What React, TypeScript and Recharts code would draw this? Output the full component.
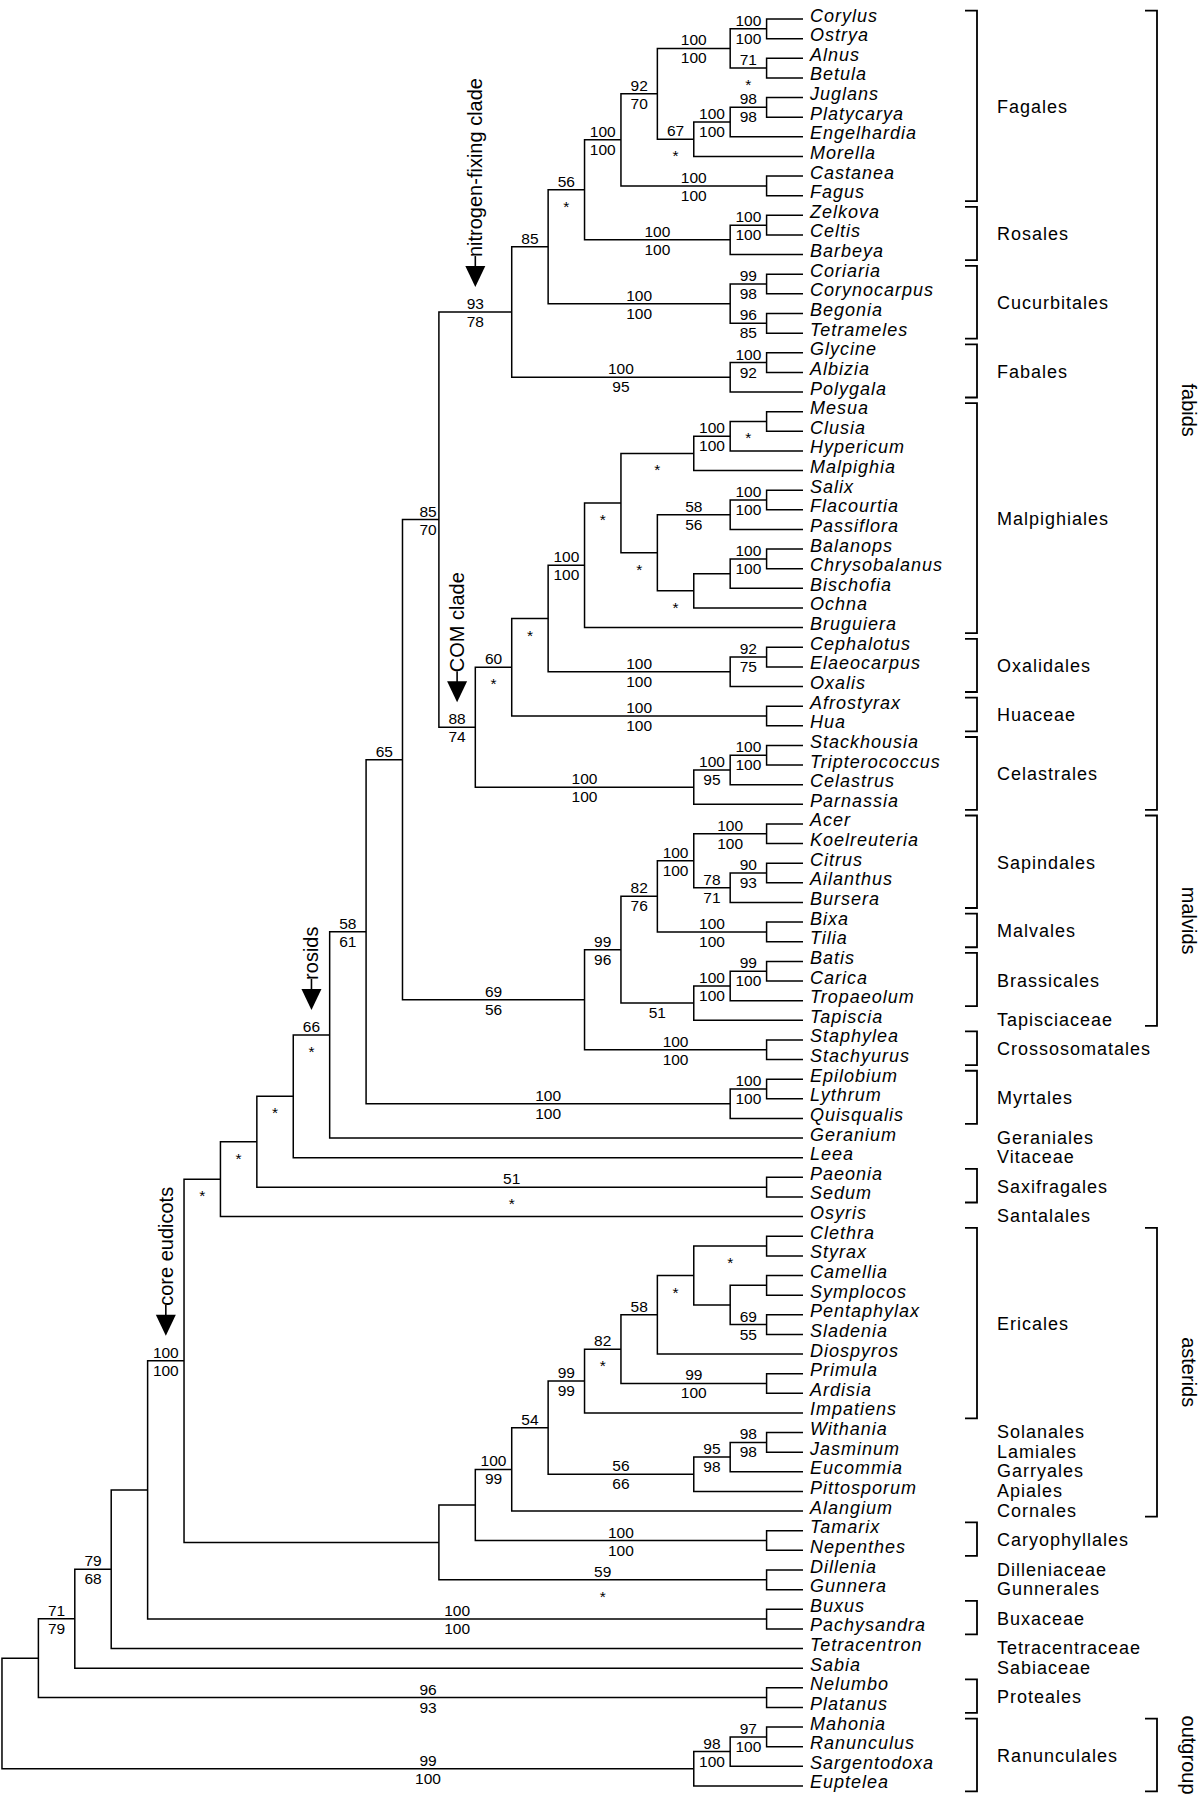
import React from 'react';
import { ComposedChart, Line, Scatter, XAxis, YAxis } from 'recharts';

// ---------------- DATA ----------------
const TAXA: string[] = [
  'Corylus', 'Ostrya', 'Alnus', 'Betula', 'Juglans', 'Platycarya', 'Engelhardia', 'Morella', 'Castanea', 'Fagus',
  'Zelkova', 'Celtis', 'Barbeya', 'Coriaria', 'Corynocarpus', 'Begonia', 'Tetrameles', 'Glycine', 'Albizia', 'Polygala',
  'Mesua', 'Clusia', 'Hypericum', 'Malpighia', 'Salix', 'Flacourtia', 'Passiflora', 'Balanops', 'Chrysobalanus', 'Bischofia',
  'Ochna', 'Bruguiera', 'Cephalotus', 'Elaeocarpus', 'Oxalis', 'Afrostyrax', 'Hua', 'Stackhousia', 'Tripterococcus', 'Celastrus',
  'Parnassia', 'Acer', 'Koelreuteria', 'Citrus', 'Ailanthus', 'Bursera', 'Bixa', 'Tilia', 'Batis', 'Carica',
  'Tropaeolum', 'Tapiscia', 'Staphylea', 'Stachyurus', 'Epilobium', 'Lythrum', 'Quisqualis', 'Geranium', 'Leea', 'Paeonia',
  'Sedum', 'Osyris', 'Clethra', 'Styrax', 'Camellia', 'Symplocos', 'Pentaphylax', 'Sladenia', 'Diospyros', 'Primula',
  'Ardisia', 'Impatiens', 'Withania', 'Jasminum', 'Eucommia', 'Pittosporum', 'Alangium', 'Tamarix', 'Nepenthes', 'Dillenia',
  'Gunnera', 'Buxus', 'Pachysandra', 'Tetracentron', 'Sabia', 'Nelumbo', 'Platanus', 'Mahonia', 'Ranunculus', 'Sargentodoxa',
  'Euptelea',
];

// clade = [first taxon index, last taxon index, upper support, lower support]
type Clade = [number, number, string, string];

const CLADES_FABIDS: Clade[] = [
  [0, 1, '100', '100'], [2, 3, '71', '*'], [0, 3, '100', '100'],
  [4, 5, '98', '98'], [4, 6, '100', '100'], [4, 7, '67', '*'], [0, 7, '92', '70'],
  [8, 9, '100', '100'], [0, 9, '100', '100'],
  [10, 11, '100', '100'], [10, 12, '100', '100'], [0, 12, '56', '*'],
  [13, 14, '99', '98'], [15, 16, '96', '85'], [13, 16, '100', '100'], [0, 16, '85', ''],
  [17, 18, '100', '92'], [17, 19, '100', '95'], [0, 19, '93', '78'],
  [20, 21, '', '*'], [20, 22, '100', '100'], [20, 23, '', '*'],
  [24, 25, '100', '100'], [24, 26, '58', '56'],
  [27, 28, '100', '100'], [27, 29, '', ''], [27, 30, '', '*'], [24, 30, '', '*'],
  [20, 30, '', '*'], [20, 31, '100', '100'],
  [32, 33, '92', '75'], [32, 34, '100', '100'], [20, 34, '', '*'],
  [35, 36, '100', '100'], [20, 36, '60', '*'],
  [37, 38, '100', '100'], [37, 39, '100', '95'], [37, 40, '100', '100'],
  [20, 40, '88', '74'], [0, 40, '85', '70'],
];

const CLADES_MALVIDS: Clade[] = [
  [41, 42, '100', '100'], [43, 44, '90', '93'], [43, 45, '78', '71'], [41, 45, '100', '100'],
  [46, 47, '100', '100'], [41, 47, '82', '76'],
  [48, 49, '99', '100'], [48, 50, '100', '100'], [48, 51, '', '51'], [41, 51, '99', '96'],
  [52, 53, '100', '100'], [41, 53, '69', '56'], [0, 53, '65', ''],
  [54, 55, '100', '100'], [54, 56, '100', '100'], [0, 56, '58', '61'],
  [0, 57, '66', '*'], [0, 58, '', '*'],
  [59, 60, '51', '*'], [0, 60, '', '*'], [0, 61, '', '*'],
];

const CLADES_ASTERIDS: Clade[] = [
  [62, 63, '', '*'], [64, 65, '', ''], [66, 67, '69', '55'], [64, 67, '', ''],
  [62, 67, '', '*'], [62, 68, '58', ''], [69, 70, '99', '100'], [62, 70, '82', '*'],
  [62, 71, '99', '99'],
  [72, 73, '98', '98'], [72, 74, '95', '98'], [72, 75, '56', '66'],
  [62, 75, '54', ''], [62, 76, '100', '99'],
  [77, 78, '100', '100'], [62, 78, '', ''],
  [79, 80, '59', '*'], [62, 80, '', ''],
];

const CLADES_BASAL: Clade[] = [
  [0, 80, '100', '100'],
  [81, 82, '100', '100'], [0, 82, '', ''],
  [0, 83, '79', '68'], [0, 84, '71', '79'],
  [85, 86, '96', '93'], [0, 86, '', ''],
  [87, 88, '97', '100'], [87, 89, '98', '100'], [87, 90, '99', '100'],
];

// [label, first, last, bracketed]
const ORDERS: [string, number, number, boolean][] = [
  ['Fagales', 0, 9, true], ['Rosales', 10, 12, true], ['Cucurbitales', 13, 16, true],
  ['Fabales', 17, 19, true], ['Malpighiales', 20, 31, true], ['Oxalidales', 32, 34, true],
  ['Huaceae', 35, 36, true], ['Celastrales', 37, 40, true], ['Sapindales', 41, 45, true],
  ['Malvales', 46, 47, true], ['Brassicales', 48, 50, true], ['Tapisciaceae', 51, 51, false],
  ['Crossosomatales', 52, 53, true], ['Myrtales', 54, 56, true], ['Geraniales', 57, 57, false],
  ['Vitaceae', 58, 58, false], ['Saxifragales', 59, 60, true], ['Santalales', 61, 61, false],
  ['Ericales', 62, 71, true], ['Solanales', 72, 72, false], ['Lamiales', 73, 73, false],
  ['Garryales', 74, 74, false], ['Apiales', 75, 75, false], ['Cornales', 76, 76, false],
  ['Caryophyllales', 77, 78, true], ['Dilleniaceae', 79, 79, false], ['Gunnerales', 80, 80, false],
  ['Buxaceae', 81, 82, true], ['Tetracentraceae', 83, 83, false], ['Sabiaceae', 84, 84, false],
  ['Proteales', 85, 86, true], ['Ranunculales', 87, 90, true],
];

const MAJOR_GROUPS: [string, number, number][] = [
  ['fabids', 0, 40], ['malvids', 41, 51], ['asterids', 62, 76], ['outgroup', 87, 90],
];

// [first, last, name] : named clades marked with an arrow
const NAMED_CLADES: [number, number, string][] = [
  [0, 19, 'nitrogen-fixing clade'], [20, 40, 'COM clade'], [0, 57, 'rosids'], [0, 80, 'core eudicots'],
];

// ---------------- LAYOUT ----------------
const W = 1200;
const H = 1800;
const FONT = "'Liberation Sans', Arial, Helvetica, sans-serif";
const L = {
  tipPx: 803,
  levelPx: 36.41,
  firstRowPx: 19,
  rowPx: 19.633,
  labelMaxPx: 428,
  taxonX: 810,
  orderX: 997,
  bracketX: 977,
  bracketTick: 12,
  majorBracketX: 1157,
  majorLabelX: 1189,
  bracketTop: 0.43,
  bracketBottom: 0.28,
};

// ---------------- TREE ----------------
const ALL_CLADES: Clade[] = [...CLADES_FABIDS, ...CLADES_MALVIDS, ...CLADES_ASTERIDS, ...CLADES_BASAL];
const CLADE_MAP = new Map<string, Clade>();
ALL_CLADES.forEach((c) => CLADE_MAP.set(`${c[0]}-${c[1]}`, c));

type TNode = {
  first: number; last: number; top: string; bottom: string;
  level: number; y: number; children: TNode[]; parent?: TNode;
};

function makeNode(first: number, last: number): TNode {
  if (first === last) return { first, last, top: '', bottom: '', level: 0, y: first, children: [] };
  const c = CLADE_MAP.get(`${first}-${last}`);
  const children: TNode[] = [];
  let pos = first;
  while (pos <= last) {
    let end = pos;
    for (const cl of ALL_CLADES) {
      if (cl[0] === pos && cl[1] <= last && !(cl[0] === first && cl[1] === last) && cl[1] > end) end = cl[1];
    }
    children.push(makeNode(pos, end));
    pos = end + 1;
  }
  const level = Math.max(...children.map((ch) => ch.level)) + 1;
  const y = (children[0].y + children[children.length - 1].y) / 2;
  const node: TNode = { first, last, top: c ? c[2] : '', bottom: c ? c[3] : '', level, y, children };
  children.forEach((ch) => (ch.parent = node));
  return node;
}

const ROOT = makeNode(0, TAXA.length - 1);
const INTERNAL: TNode[] = [];
(function walk(n: TNode) {
  if (n.children.length) {
    INTERNAL.push(n);
    n.children.forEach(walk);
  }
})(ROOT);

const LABEL_MAX_LEVEL = (L.tipPx - L.labelMaxPx) / L.levelPx;
const labelLevel = (n: TNode) => {
  const mid = (n.level + (n.parent ? n.parent.level : n.level)) / 2;
  // very long basal branches carry their label near the middle of the figure
  return n.level < LABEL_MAX_LEVEL ? Math.min(mid, LABEL_MAX_LEVEL) : mid;
};

function branchPoints(n: TNode) {
  const pts: { x: number; y: number | null }[] = [];
  const c0 = n.children[0];
  const cn = n.children[n.children.length - 1];
  pts.push({ x: c0.level, y: c0.y }, { x: n.level, y: c0.y }, { x: n.level, y: cn.y }, { x: cn.level, y: cn.y });
  for (let i = 1; i < n.children.length - 1; i++) {
    const c = n.children[i];
    pts.push({ x: cn.level, y: null }, { x: n.level, y: c.y }, { x: c.level, y: c.y });
  }
  return pts;
}

const supportData = INTERNAL.filter((n) => n.parent && (n.top || n.bottom)).map((n) => ({
  x: labelLevel(n), y: n.y, top: n.top, bottom: n.bottom,
}));

const namedData = NAMED_CLADES.map(([f, l, name]) => {
  const n = INTERNAL.find((m) => m.first === f && m.last === l)!;
  return { x: labelLevel(n), y: n.y, name };
});

const taxonData = TAXA.map((name, i) => ({ x: L.taxonX, y: i, name }));
const orderData = ORDERS.map(([name, f, l]) => ({ x: L.orderX, y: (f + l) / 2, name }));
const majorData = MAJOR_GROUPS.map(([name, f, l]) => ({
  x: L.majorLabelX, y: (f - L.bracketTop + l + L.bracketBottom) / 2, name,
}));

function bracket(f: number, l: number, x: number) {
  const top = f - L.bracketTop;
  const bot = l + L.bracketBottom;
  return [
    { x: x - L.bracketTick, y: top }, { x, y: top }, { x, y: bot }, { x: x - L.bracketTick, y: bot },
  ];
}

// ---------------- SHAPES ----------------
const SUPPORT_FS = 15.5;

const SupportShape = (p: any) => {
  const { cx, cy, payload } = p;
  return (
    <g>
      {payload.top ? (
        <text x={cx} y={cy - 3} textAnchor="middle" fontSize={SUPPORT_FS} fontFamily={FONT} fill="#000">{payload.top}</text>
      ) : null}
      {payload.bottom ? (
        <text x={cx} y={cy + (payload.bottom === '*' ? 22 : 15)} textAnchor="middle" fontSize={SUPPORT_FS} fontFamily={FONT} fill="#000">
          {payload.bottom}
        </text>
      ) : null}
    </g>
  );
};

const NamedShape = (p: any) => {
  const { cx, cy, payload } = p;
  const textEnd = cy - 55;
  return (
    <g>
      <text
        x={cx}
        y={textEnd}
        transform={`rotate(-90 ${cx} ${textEnd})`}
        textAnchor="start"
        dominantBaseline="central"
        fontSize={20}
        fontFamily={FONT}
        fill="#000"
      >
        {payload.name}
      </text>
      <line x1={cx} x2={cx} y1={textEnd - 1} y2={cy - 44} stroke="#000" strokeWidth={1.6} />
      <polygon points={`${cx - 10},${cy - 46} ${cx + 10},${cy - 46} ${cx},${cy - 25}`} fill="#000" />
    </g>
  );
};

const TaxonShape = (p: any) => (
  <text x={p.cx} y={p.cy + 2.5} fontSize={18} fontStyle="italic" letterSpacing={1} fontFamily={FONT} fill="#000">
    {p.payload.name}
  </text>
);

const OrderShape = (p: any) => (
  <text x={p.cx} y={p.cy + 5.5} fontSize={18} letterSpacing={1} fontFamily={FONT} fill="#000">
    {p.payload.name}
  </text>
);

const MajorShape = (p: any) => (
  <text
    x={p.cx}
    y={p.cy}
    transform={`rotate(90 ${p.cx} ${p.cy})`}
    textAnchor="middle"
    dominantBaseline="central"
    fontSize={20}
    fontFamily={FONT}
    fill="#000"
  >
    {p.payload.name}
  </text>
);

// ---------------- APP ----------------
export default function App() {
  const treeDomain: [number, number] = [(L.tipPx - W) / L.levelPx, L.tipPx / L.levelPx];
  const rowDomain: [number, number] = [-L.firstRowPx / L.rowPx, (H - L.firstRowPx) / L.rowPx];
  return (
    <div style={{ position: 'absolute', left: 0, top: 0, width: W, height: H, background: '#fff' }}>
      <ComposedChart width={W} height={H} margin={{ top: 0, right: 0, bottom: 0, left: 0 }}>
        <XAxis xAxisId="tree" type="number" dataKey="x" domain={treeDomain} reversed hide allowDataOverflow />
        <XAxis xAxisId="panel" type="number" dataKey="x" domain={[0, W]} hide allowDataOverflow />
        <YAxis yAxisId="rows" type="number" dataKey="y" domain={rowDomain} reversed hide allowDataOverflow />

        {INTERNAL.map((n, i) => (
          <Line
            key={`br-${i}`}
            xAxisId="tree"
            yAxisId="rows"
            data={branchPoints(n)}
            dataKey="y"
            type="linear"
            stroke="#000"
            strokeWidth={1.5}
            dot={false}
            activeDot={false}
            legendType="none"
            isAnimationActive={false}
          />
        ))}

        {ORDERS.filter((o) => o[3]).map(([name, f, l]) => (
          <Line
            key={`ob-${name}`}
            xAxisId="panel"
            yAxisId="rows"
            data={bracket(f, l, L.bracketX)}
            dataKey="y"
            type="linear"
            stroke="#000"
            strokeWidth={1.8}
            dot={false}
            activeDot={false}
            legendType="none"
            isAnimationActive={false}
          />
        ))}

        {MAJOR_GROUPS.map(([name, f, l]) => (
          <Line
            key={`mb-${name}`}
            xAxisId="panel"
            yAxisId="rows"
            data={bracket(f, l, L.majorBracketX)}
            dataKey="y"
            type="linear"
            stroke="#000"
            strokeWidth={1.8}
            dot={false}
            activeDot={false}
            legendType="none"
            isAnimationActive={false}
          />
        ))}

        <Scatter xAxisId="tree" yAxisId="rows" data={supportData} shape={SupportShape} isAnimationActive={false} />
        <Scatter xAxisId="tree" yAxisId="rows" data={namedData} shape={NamedShape} isAnimationActive={false} />
        <Scatter xAxisId="panel" yAxisId="rows" data={taxonData} shape={TaxonShape} isAnimationActive={false} />
        <Scatter xAxisId="panel" yAxisId="rows" data={orderData} shape={OrderShape} isAnimationActive={false} />
        <Scatter xAxisId="panel" yAxisId="rows" data={majorData} shape={MajorShape} isAnimationActive={false} />
      </ComposedChart>
    </div>
  );
}
